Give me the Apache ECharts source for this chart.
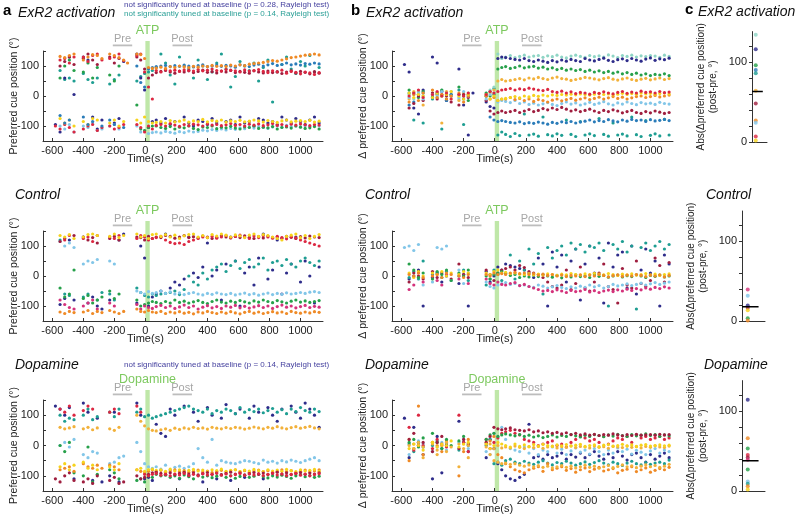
<!DOCTYPE html>
<html><head><meta charset="utf-8">
<script src="https://cdn.jsdelivr.net/npm/echarts@6/dist/echarts.min.js"></script>
<style>html,body{margin:0;padding:0;background:#fff}#c{width:796px;height:520px}</style>
</head><body><div id="c"></div>
<script>
// ---------- shared sample times (s) ----------
const T = [-580,-550,-520,-490,-460,-400,-370,-340,-310,-280,-230,-200,-170,-140,-115,
  -55,-30,-5,20,45,
  70,100,130,160,190,220,250,280,310,340,370,400,430,460,490,520,550,580,610,640,670,700,730,760,790,820,850,880,910,940,970,1000,1030,1060,1090,1120];
const X_TICKS = [-600,-400,-200,0,200,400,600,800,1000];
const Y_TICKS = [-150,-100,-50,0,50,100,150];
const Y_LABELS = [-100,0,100];
const C_TICKS = [0,20,40,60,80,100,120];
const C_LABELS = [0,100];
const PRE_WINDOW = [-210,-85];
const POST_WINDOW = [175,300];
const DRUG_WINDOW = [0,28];

// ---------- ExR2 activation: preferred cue position ----------
const exPref_orange = [null,132,128,135,140,120,130,138,135,125,140,135,128,120,110, 140,138,125,95,92,
  93,96,92,98,95,100, 97,95,99,96,100,98, 102,99,101,98,103,100, 104,101,106,108,110,112, 115,118,116,120,124,128, 130,133,136,138,140,137];
const exPref_blue = [null,-65,-90,-80,null,-70,-95,-85,null,-100,-80,-95,null,-105,null, 100,45,30,90,95,
  98,100,102,98,101,99, 103,100,97,101,104,98, 100,103,99,102,100,96, 104,101,98,103,106,100, 104,108,102,105,110,104, 107,103,108,106,110,107];
const exPref_red = [null,120,125,110,130,130,115,135,140,120,125,130,140,118,null, 135,140,80,30,-10,
  85,80,88,84,86,82, 87,85,83,88,84,86, 90,85,83,88,86,84, 80,87,83,85,88,82, 78,84,80,86,76,82, 79,74,80,77,72,78];
const exPref_maroon = [null,100,115,130,105,125,140,120,105,null,130,110,125,null,null, 130,120,90,60,70,
  78,82,85,80,76,83, 80,84,78,82,86,79, 81,77,83,80,85,78, 82,79,76,84,80,77, 83,78,81,75,80,84, 77,82,79,74,81,76];
const exPref_pink = [-100,-110,-95,-105,-120,-110,-100,-95,-115,-105,-100,-110,-105,-95,null, -95,-105,-120,-100,-110,
  -98,-95,-100,-92,-97,-101, -95,-99,-94,-96,-100,-93, -97,-95,-99,-96,-92,-98, -95,-100,-94,-97,-93,-99, -96,-92,-98,-95,-100,-94, -97,-93,-96,-99,-95,-97];
const exPref_yellow = [null,-75,-90,-80,-100,-85,-95,-75,-80,null,-90,-80,-100,-85,null, -80,-90,-70,-85,-90,
  -88,-85,-90,-82,-86,-84, -80,-87,-83,-85,-78,-86, -82,-84,-80,-87,-83,-85, -81,-86,-84,-80,-83,-87, -82,-85,-88,-83,-80,-86, -84,-82,-85,-81,-87,-84];
const exPref_green = [null,60,100,120,85,80,110,60,95,null,70,50,100,null,null, -30,-110,-115,-105,-100,
  -100,-105,-108,-102,-110,-104, -106,-100,-108,-112,-103,-105, -100,-109,-104,-106,-101,-107, -110,-103,-105,-100,-108,-104, -106,-102,-110,-105,-103,-107, -100,-104,-108,-106,-102,-110];
const exPref_lightblue = [null,-100,-110,-95,-120,-100,-105,-90,-115,-110,-100,-95,-110,null,null, -100,-120,-115,-125,-122,
  -120,-123,-118,-121,-124,-119, -122,-117,-120,-118,-114,-116, -112,-115,-110,-113,-108,-111, -106,-109,-104,-107,-102,-105, -108,-103,-100,-104,-98,-102, -100,-103,-99,-101,-97,-100];
const exPref_navy = [-95,-120,60,130,5,130,120,-70,-110,-80,null,-90,-75,115,null, 140,60,20,-105,-85,
  -80,-90,-75,-95,-85,null, -70,-90,-100,-80,-85,-95, -75,-90,null,-85,-80,-95, -70,-90,-85,-100,-75,-80, -90,-85,-95,-70,-80,-90, -75,-85,-95,-80,-70,-90];
const exPref_teal = [null,85,55,60,50,75,55,45,60,null,40,55,70,null,null, 50,65,75,80,85,
  95,140,110,70,40,130, 100,90,60,120,100,55, 80,110,140,90,30,65, 115,100,85,110,50,95, 120,-20,80,105,130,90, 75,115,100,135,80,95];

// ---------- ExR2 activation: change in preferred position ----------
const exDelta_mint = [null,5,-10,15,0,10,-5,20,5,15,-10,5,10,null,null, 10,20,30,140,125,
  130,135,128,132,136,130, 133,135,129,134,131,136, 130,127,133,136,132,129, 135,131,134,130,137,133, 128,135,132,136,130,134, 131,135,133,129,136,132];
const exDelta_navy = [105,80,-40,-60,20,130,110,15,-15,null,90,-30,-130,10,null, -20,-35,-40,125,130,
  128,125,122,120,125,118, 115,120,116,112,118,114, 120,116,122,118,115,125, 120,117,122,126,119,115, 121,124,118,125,120,116, 123,127,119,124,121,126];
const exDelta_green = [null,20,10,-5,15,0,10,20,-10,5,30,0,-15,null,null, 10,0,5,90,95,
  98,92,95,100,94,97, 99,93,96,90,94,88, 92,86,90,85,88,82, 86,80,84,78,82,76, 80,74,78,72,76,70, 74,68,72,70,74,68];
const exDelta_gold = [null,-10,15,5,-30,10,5,-90,15,0,-15,10,5,null,null, 0,10,20,50,55,
  50,52,55,58,54,60, 57,62,58,55,60,63, 58,56,52,55,58,62, 60,57,54,58,61,56, 53,57,60,55,52,56, 59,54,57,60,55,58];
const exDelta_red = [null,0,10,20,-5,5,15,0,10,-10,5,0,10,null,null, 5,15,10,15,20,
  22,25,20,24,21,26, 23,20,18,22,15,12, 16,10,14,8,12,10, 6,12,9,14,10,7, 12,15,9,13,10,16, 12,14,10,15,11,13];
const exDelta_yellow = [null,10,-5,5,0,-5,10,0,5,15,0,-10,5,null,null, 5,-10,0,-15,-10,
  -8,-5,-2,-6,0,-3, 2,-1,3,0,4,2, 5,3,6,4,7,5, 3,6,8,5,7,4, 6,9,5,8,6,10, 7,9,6,8,10,7];
const exDelta_orange = [null,-20,5,-15,10,20,-5,5,-10,0,10,-20,0,null,null, 0,-10,-5,-15,-10,
  -10,-5,-12,-8,-15,-10, -18,-12,-15,-20,-14,-10, -16,-12,-8,-14,-10,-6, -12,-8,-4,-10,-6,-2, -8,-4,-10,-6,-2,0, -5,-2,2,-3,0,3];
const exDelta_lightblue = [null,-5,5,10,-10,5,0,15,10,0,-5,15,0,null,null, -10,5,10,-20,-15,
  -18,-22,-15,-25,-20,-28, -24,-30,-26,-22,-28,-32, -25,-20,-27,-23,-30,-26, -21,-28,-24,-19,-26,-30, -23,-27,-20,-25,-29,-22, -26,-24,-28,-21,-25,-27];
const exDelta_maroon = [null,-40,-25,0,-15,10,-10,5,0,-20,-30,5,-5,null,null, -15,-50,-60,-55,-50,
  -55,-52,-48,-55,-50,-45, -52,-48,-42,-46,-40,-45, -38,-44,-50,-46,-52,-48, -44,-50,-55,-48,-52,-46, -50,-56,-52,-48,-55,-58, -52,-56,-50,-54,-58,-55];
const exDelta_blue = [null,-30,-20,0,10,-5,10,0,-15,5,5,-10,0,null,null, 0,-70,-80,-85,-82,
  -85,-88,-90,-86,-92,-89, -91,-87,-90,-94,-88,-91, -86,-89,-85,-90,-87,-84, -80,-86,-82,-85,-79,-83, -86,-80,-84,-78,-82,-80, -85,-79,-83,-81,-78,-82];
const exDelta_teal = [null,10,-80,5,-90,-10,5,-110,10,0,20,-95,5,null,null, 0,15,25,-130,-120,
  -128,-135,-125,-132,-60,-130, -127,-134,-70,-129,-133,-126, -131,-80,-128,-135,-85,-130, -126,-132,-75,-128,-134,-90, -130,-127,-133,-70,-129,-135, -82,-131,-126,-133,-78,-130];
const exAbs_values = [134,116,96,90,86,64,48,27,24,7,2];

// ---------- Control: preferred cue position ----------
const ctPref_yellow = [null,135,130,138,125,130,138,140,135,null,132,140,128,135,null, 140,130,135,125,138,
  140,132,138,130,136,125, 134,138,140,130,135,128, 138,133,140,136,130,137, 134,128,136,140,132,138, 135,130,125,120,132,136, 140,128,135,125,132,138];
const ctPref_orange = [null,-120,-125,-118,-122,-120,-115,-125,-118,-122,-115,-120,-125,-118,null, -110,-118,-120,-115,-120,
  -122,-118,-125,-120,-123,-119, -124,-121,-126,-120,-123,-118, -122,-125,-120,-124,-119,-123, -126,-121,-118,-124,-120,-125, -122,-119,-123,-120,-125,-118, -122,-124,-120,-123,-119,-121];
const ctPref_red = [null,null,120,135,null,125,130,115,135,null,130,125,135,null,null, 125,135,130,120,125,
  128,132,120,112,108,110, 105,115,120,125,130,128, 132,126,130,135,128,132, 136,130,125,133,128,135, 130,126,132,128,124,130, 127,120,115,110,105,100];
const ctPref_maroon = [null,115,125,null,135,130,120,128,110,null,125,132,120,null,null, 130,128,120,132,125,
  130,128,135,132,126,130, 135,128,131,127,133,130, 125,129,134,130,127,132, 128,134,129,125,131,127, 133,128,130,126,132,129, 125,131,127,133,130,128];
const ctPref_lightblue = [null,115,100,110,95,40,50,45,55,null,50,40,null,null,null, -50,-55,-60,-52,-58,
  -55,-50,-58,-53,-60,-56, -62,-58,-55,-60,-63,-58, -61,-56,-60,-62,-58,-63, -60,-57,-62,-59,-64,-60, -57,-62,-58,-61,-56,-60, -58,-55,-58,-54,-52,-55];
const ctPref_navy = [null,-95,-75,120,-80,130,-90,-70,-100,-110,-80,null,120,140,null, -90,100,60,-100,-70,
  -60,-50,140,-40,-20,-30, -10,130,10,-5,30,110, 0,20,-80,40,130,50, -100,10,30,-30,60,140, -10,20,120,-60,10,40, 130,-20,50,0,-90,30];
const ctPref_teal = [null,120,-60,-65,null,-70,-60,null,-80,-55,-60,-80,null,null,null, -40,-55,-65,-70,-60,
  -65,-60,-58,-55,-50,-62, -45,0,-20,-30,10,-10, 20,30,40,15,35,50, 25,45,55,30,40,60, 20,45,50,35,55,40, 30,50,60,45,35,50];
const ctPref_green = [null,-40,-70,-60,20,-75,-65,-90,-80,-70,-50,-75,-60,null,null, -80,-100,-95,-90,-85,
  -88,-92,-85,-90,-80,-88, -84,-90,-86,-82,-88,-92, -85,-80,-87,-90,-84,-88, -82,-86,-90,-83,-87,-80, -85,-89,-82,-86,-90,-84, -80,-87,-83,-88,-85,-82];
const ctPref_pink = [null,-80,-95,-105,-110,-100,-90,-80,-110,null,-90,-100,null,null,null, -95,-110,-100,-105,-108,
  -102,-98,-105,-100,-108,-103, -97,-105,-100,-110,-104,-99, -106,-102,-108,-100,-104,-98, -106,-101,-107,-103,-99,-105, -100,-108,-102,-97,-104,-100, -106,-102,-98,-105,-101,-104];

// ---------- Control: change in preferred position ----------
const ctDelta_orange = [null,5,0,10,-5,0,5,-5,10,5,0,-5,5,null,null, 5,0,10,5,8,
  5,10,12,8,10,5, 8,3,6,2,5,0, 3,-2,2,0,4,-2, 3,0,5,2,-3,1, 4,-1,3,0,5,2, -2,3,0,4,-3,2];
const ctDelta_yellow = [null,10,-5,15,0,10,5,15,0,10,5,15,10,null,null, 10,5,15,20,10,
  12,8,10,6,5,8, 4,6,3,7,5,2, 6,4,8,5,3,7, 5,9,6,4,8,5, 2,6,4,7,3,5, 8,4,6,2,5,7];
const ctDelta_green = [null,40,20,-5,10,-10,15,5,20,-15,10,0,20,null,null, 0,-10,5,10,15,
  8,2,5,-5,0,-3, 3,-2,5,0,-4,2, -6,1,-3,4,-2,0, -5,3,-1,2,-4,0, 3,-3,1,-2,4,0, -5,2,-1,3,-3,0];
const ctDelta_lightblue = [95,100,85,105,-30,-20,95,90,100,-15,20,-25,10,null,null, -20,-35,-40,-30,-25,
  -22,-28,-25,-32,-30,-35, -38,-30,-34,-40,-36,-32, -38,-42,-36,-40,-34,-38, -30,-36,-32,-40,-35,-28, -33,-30,-26,-32,-28,-24, -30,-26,-22,-28,-24,-20];
const ctDelta_pink = [null,-45,-30,10,-20,0,-15,-30,5,null,-10,0,-25,null,null, -10,-25,-30,-20,-28,
  -30,-25,-22,-32,-28,-35, -40,-45,-50,-48,-52,-46, -50,-55,-48,-52,-50,-45, -53,-49,-55,-50,-47,-52, -46,-50,-44,-48,-42,-46, -40,-44,-38,-42,-36,-40];
const ctDelta_maroon = [null,-20,10,0,-10,15,-5,10,null,-10,40,5,-5,null,null, 20,5,-15,10,20,
  25,30,20,35,28,15, 10,5,-5,-20,-35,-40, -30,20,-45,-25,30,-40, -50,-20,10,40,-35,-45, -90,25,-30,-40,50,-25, -35,-15,60,35,-20,45];
const ctDelta_navy = [null,-10,0,20,-100,-5,10,-20,0,null,-25,5,-100,null,null, 15,-20,0,30,20,
  40,35,30,25,20,10, -5,60,40,-100,80,30, 70,-20,50,90,-80,40, 100,10,60,-90,110,30, 70,80,-40,100,-60,20, 90,10,50,-100,70,40];
const ctDelta_teal = [null,-5,15,-10,50,5,10,-5,15,null,0,20,-15,null,null, -30,-10,20,5,-15,
  10,70,-10,50,20,90, 40,75,-60,95,60,85, 100,70,110,90,105,80, 100,95,110,85,-100,105, 90,115,80,100,-110,95, 110,85,100,115,90,105];
const ctAbs_values = [40,32,20,17,14,4,1];

// ---------- Dopamine: preferred cue position ----------
const daPref_teal = [null,100,80,90,85,100,120,85,95,null,110,95,120,null,null, 110,120,95,100,90,
  95,100,105,110,115,120, 125,130,120,115,110,120, 105,115,110,120,115,105, 125,110,118,112,120,108, 115,122,110,118,105,120, 112,125,115,110,120,112];
const daPref_navy = [130,120,100,125,-110,140,110,-115,90,-120,-100,110,-120,null,null, 140,100,-110,-105,-115,
  70,40,30,120,100,-110, 130,-100,110,80,-120,125, 100,-110,90,135,-115,105, 120,-105,90,130,110,-110, 125,100,80,120,-100,130, 110,90,140,120,100,60];
const daPref_gold = [null,60,55,58,62,55,60,52,58,null,55,50,60,null,null, 100,80,65,55,50,
  48,52,55,50,57,53, 58,55,60,56,58,54, 60,57,55,59,56,60, 58,54,57,61,58,55, 60,57,62,58,55,59, 62,57,60,63,58,55];
const daPref_yellow = [null,-70,-60,-80,-65,-55,-75,-65,-80,null,-70,-80,-60,null,null, -80,-75,-85,-80,-78,
  -82,-80,-85,-78,-84,-80, -86,-82,-79,-84,-81,-86, -80,-83,-78,-85,-82,-80, -86,-81,-84,-79,-83,-86, -80,-84,-81,-85,-79,-83, -86,-80,-84,-82,-79,-85];
const daPref_maroon = [-110,-120,-100,-90,-115,-120,-110,-125,-100,null,-115,-105,-125,-120,null, -100,-110,-105,-95,-90,
  -88,-92,-95,-90,-96,-92, -88,-94,-90,-97,-93,-89, -95,-91,-96,-92,-88,-94, -90,-97,-93,-89,-95,-91, -96,-92,-88,-94,-90,-96, -92,-89,-95,-91,-94,-90];
const daPref_green = [null,0,-20,10,-90,-100,-5,-120,-95,null,-80,-90,-110,null,null, -115,-110,-120,-100,-105,
  -95,-100,-98,-105,-100,-108, -97,-103,-110,-99,-104,-100, -106,-101,-97,-105,-100,-108, -102,-98,-105,-101,-95,-103, -107,-100,-104,-98,-102,-108, -100,-96,-103,-99,-105,-101];
const daPref_lightblue = [null,0,10,-5,20,-30,-40,-20,-25,null,-60,-55,-40,-35,null, 10,-20,-60,-70,-75,
  -70,-78,-65,-80,-72,-68, -75,-70,-60,-10,-40,-55, 20,-65,-50,-55,-58,-60, -55,-50,-52,-56,-60,-48, -55,-52,-58,-50,-54,-48, -52,-56,-50,-45,-40,-50];
const daPref_orange = [null,-80,-75,-70,-85,-60,-70,-75,-65,-75,-65,-70,-80,null,null, -80,-85,-90,-85,-80,
  -85,-82,-88,-84,-80,-86, -83,-88,-85,-81,-87,-84, -89,-85,-82,-87,-84,-80, -86,-83,-88,-84,-81,-86, -83,-88,-85,-80,-86,-83, -89,-85,-81,-87,-84,-80];
const daPref_red = [null,120,110,130,100,115,130,120,null,null,110,120,105,null,null, 130,110,-95,-100,-95,
  -92,-98,-95,-100,-94,-97, -92,-99,-95,-100,-93,-97, -95,-91,-98,-94,-100,-96, -92,-98,-94,-97,-93,-99, -95,-91,-97,-94,-99,-95, -92,-98,-94,-100,-96,-93];

// ---------- Dopamine: change in preferred position ----------
const daDelta_maroon = [null,20,40,0,10,-20,10,30,0,null,-10,20,5,null,null, 10,30,60,55,52,
  55,58,52,50,48,52, 45,48,42,45,40,43, 38,42,36,40,35,38, 34,37,33,36,34,38, 35,32,36,33,37,34, 35,36,34,37,35,36];
const daDelta_green = [null,10,20,-5,25,40,10,-10,20,0,15,30,5,null,null, 20,35,40,30,35,
  38,35,32,36,30,34, 28,32,26,30,35,28, 33,30,36,32,28,34, 30,36,33,29,35,31, 37,33,30,36,32,34, 38,33,36,30,35,32];
const daDelta_yellow = [null,-10,5,0,-15,10,-5,5,0,15,-5,5,10,null,null, 5,-10,0,10,5,
  0,-5,5,-3,2,-4, 3,-2,4,0,-3,2, -1,3,-2,1,4,-3, 0,2,-4,1,3,-2, 0,4,-1,2,-3,1, 3,-2,0,2,-1,1];
const daDelta_gold = [null,0,-10,10,-5,5,-15,0,10,-5,5,-10,0,null,null, -5,5,-10,0,-8,
  -5,-8,-2,-6,-10,-4, -7,-3,-9,-5,-2,-8, -4,-6,-1,-7,-3,-5, -8,-2,-6,-4,-9,-3, -5,-7,-2,-6,-4,-8, -3,-6,-1,-5,-7,-2];
const daDelta_orange = [null,20,-10,0,-40,10,-30,0,-20,null,-70,5,-40,null,null, 10,-30,-50,-55,-60,
  -58,-62,-60,-65,-68,-64, -70,-66,-72,-68,-74,-70, -66,-72,-68,-74,-70,-65, -72,-68,-75,-70,-66,-73, -69,-64,-70,-67,-73,-68, -64,-70,-66,-72,-68,-62];
const daDelta_navy = [90,-40,60,10,-30,-110,30,-90,null,null,80,10,-20,null,null, -40,20,-10,-60,-80,
  -100,-110,-115,-105,-95,70, -40,-35,-45,-30,-40,-35, -25,-45,-30,-38,-25,-40, -30,-20,-35,-45,-28,-40, -20,-35,-48,-30,-25,-40, -55,-30,-45,-35,-25,-40];
const daDelta_lightblue = [null,-30,-10,15,5,-20,-5,10,-15,null,10,20,-10,null,null, -20,-30,40,30,60,
  20,-10,-15,-20,-5,-25, -10,-30,-15,-20,-5,-25, -12,-30,-18,-8,-22,-15, -28,-10,-20,-30,-15,-25, -8,-20,-12,-28,-16,-22, -30,-18,-10,-25,-15,-20];
const daDelta_teal = [null,5,-20,10,-5,0,15,-10,5,null,-15,10,0,null,null, 0,20,-60,-55,-65,
  -50,-45,-55,-60,-52,-58, -62,-55,-50,-58,-64,-56, -60,-52,-58,-65,-60,-54, -62,-56,-50,-58,-64,-55, -60,-66,-58,-52,-60,-64, -56,-62,-58,-55,-60,-48];
const daDelta_red = [null,60,-15,100,0,-10,20,5,-5,null,100,10,-20,null,null, 20,-10,10,25,40,
  45,50,40,35,20,15, 10,0,5,10,15,0, 5,-5,10,20,30,25, 15,20,10,30,5,15, 25,20,30,10,35,25, 30,20,25,30,20,25];
const daDelta_orange2 = [null,-50,5,130,-30,10,0,-20,15,null,-100,-20,20,null,null, 5,15,30,-30,-40,
  -60,-70,-80,-85,-90,-80, -75,-70,-85,-60,-80,-75, -70,-82,-76,-88,-80,-74, -86,-78,-72,-84,-80,-76, -90,-82,-78,-70,-86,-80, -74,-88,-82,-76,-80,-72];
const daAbs_values = [114,66,53,45,42,39,27,12,9,6,2];

// ---------- styles ----------
const FONT = '"Liberation Sans", Arial, Helvetica, sans-serif';
const COL = {navy:'#2e2c8a', blue:'#2a7cb9', lightblue:'#82c6e8', teal:'#1e9e92', mint:'#8fd5c5',
  green:'#26a04a', yellow:'#f6d31c', gold:'#f2b13a', orange:'#ef8a26', red:'#dc2741', maroon:'#9f1e3f', pink:'#d4327b'};
const AXC = '#333';

const timePanels = [
  {grid:{left:43,top:51,width:280,height:90}, yName:'Preferred cue position (°)', drug:'ATP',
   traces:[[exPref_teal,'teal'],[exPref_navy,'navy'],[exPref_lightblue,'lightblue'],[exPref_green,'green'],[exPref_pink,'red'],
           [exPref_yellow,'yellow'],[exPref_maroon,'maroon'],[exPref_red,'red'],[exPref_blue,'blue'],[exPref_orange,'orange']]},
  {grid:{left:392,top:51,width:281,height:90}, yName:'Δ preferred cue position (°)', drug:'ATP',
   traces:[[exDelta_teal,'teal'],[exDelta_mint,'mint'],[exDelta_navy,'navy'],[exDelta_green,'green'],[exDelta_gold,'gold'],
           [exDelta_blue,'blue'],[exDelta_maroon,'maroon'],[exDelta_lightblue,'lightblue'],[exDelta_orange,'orange'],[exDelta_yellow,'yellow'],[exDelta_red,'red']]},
  {grid:{left:43,top:231,width:280,height:90}, yName:'Preferred cue position (°)', drug:'ATP',
   traces:[[ctPref_navy,'navy'],[ctPref_teal,'teal'],[ctPref_green,'green'],[ctPref_lightblue,'lightblue'],[ctPref_pink,'pink'],
           [ctPref_orange,'orange'],[ctPref_maroon,'maroon'],[ctPref_red,'red'],[ctPref_yellow,'yellow']]},
  {grid:{left:392,top:231,width:281,height:90}, yName:'Δ preferred cue position (°)', drug:'ATP',
   traces:[[ctDelta_navy,'navy'],[ctDelta_teal,'teal'],[ctDelta_maroon,'maroon'],[ctDelta_lightblue,'lightblue'],[ctDelta_pink,'pink'],
           [ctDelta_green,'green'],[ctDelta_yellow,'yellow'],[ctDelta_orange,'orange']]},
  {grid:{left:43,top:400,width:280,height:91}, yName:'Preferred cue position (°)', drug:'Dopamine',
   traces:[[daPref_navy,'navy'],[daPref_lightblue,'lightblue'],[daPref_teal,'teal'],[daPref_green,'green'],[daPref_orange,'orange'],
           [daPref_yellow,'yellow'],[daPref_maroon,'maroon'],[daPref_red,'red'],[daPref_gold,'gold']]},
  {grid:{left:392,top:400,width:281,height:91}, yName:'Δ preferred cue position (°)', drug:'Dopamine',
   traces:[[daDelta_navy,'navy'],[daDelta_lightblue,'lightblue'],[daDelta_teal,'teal'],[daDelta_orange2,'orange'],[daDelta_orange,'gold'],
           [daDelta_red,'red'],[daDelta_green,'green'],[daDelta_maroon,'maroon'],[daDelta_gold,'gold'],[daDelta_yellow,'yellow']]}
];
const absPanels = [
  {grid:{left:752,top:31.6,width:15,height:110.4}, values:exAbs_values,
   colors:['mint','navy','green','blue','teal','gold','maroon','orange','lightblue','red','yellow']},
  {grid:{left:742,top:211,width:23,height:110.4}, values:ctAbs_values,
   colors:['pink','lightblue','navy','maroon','yellow','green','orange']},
  {grid:{left:742,top:380.6,width:23,height:110.4}, values:daAbs_values,
   colors:['navy','orange','green','red','maroon','pink','green','lightblue','teal','orange','yellow']}
];

function pts(vals){ const out=[]; for(let k=0;k<T.length;k++){ const v=vals[k]; if(v!==null && v!==undefined) out.push([T[k],v]); } return out; }
const plain = v => String(v);

const grids=[], xAxes=[], yAxes=[], series=[];
timePanels.forEach((p,i)=>{
  grids.push(Object.assign({containLabel:false}, p.grid));
  xAxes.push({gridIndex:i, type:'value', min:-660, max:1145,
    axisLine:{show:true, onZero:false, lineStyle:{color:AXC, width:1}},
    axisTick:{show:true, inside:true, length:3, customValues:X_TICKS, lineStyle:{color:AXC}},
    axisLabel:{customValues:X_TICKS, formatter:plain, fontSize:11, color:'#222', margin:4, fontFamily:FONT},
    splitLine:{show:false}});
  yAxes.push({gridIndex:i, type:'value', min:-150, max:150,
    axisLine:{show:true, onZero:false, lineStyle:{color:AXC, width:1}},
    axisTick:{show:true, inside:true, length:3, customValues:Y_TICKS, lineStyle:{color:AXC}},
    axisLabel:{customValues:Y_LABELS, formatter:plain, fontSize:11, color:'#222', margin:4, fontFamily:FONT},
    splitLine:{show:false},
    name:p.yName, nameLocation:'middle', nameGap:23, nameMoveOverlap:false,
    nameTextStyle:{fontSize:10.5, color:'#222', fontFamily:FONT}});
  p.traces.forEach(([vals,ck])=>{
    series.push({type:'scatter', xAxisIndex:i, yAxisIndex:i, data:pts(vals), symbolSize:3.2,
      itemStyle:{color:COL[ck], opacity:1}, silent:true, animation:false});
  });
});
absPanels.forEach((p,j)=>{
  const i = timePanels.length + j;
  grids.push(Object.assign({containLabel:false}, p.grid));
  xAxes.push({gridIndex:i, type:'value', min:0, max:1,
    axisLine:{show:true, onZero:false, lineStyle:{color:AXC}}, axisTick:{show:false}, axisLabel:{show:false}, splitLine:{show:false}});
  yAxes.push({gridIndex:i, type:'value', min:0, max:138,
    axisLine:{show:true, onZero:false, lineStyle:{color:AXC}},
    axisTick:{show:true, inside:false, length:3, customValues:C_TICKS, lineStyle:{color:AXC}},
    axisLabel:{customValues:C_LABELS, formatter:plain, fontSize:11, color:'#222', margin:5, fontFamily:FONT},
    splitLine:{show:false},
    name:'Abs(Δpreferred cue position)\n(post-pre, °)', nameLocation:'middle', nameGap:33, nameMoveOverlap:false,
    nameTextStyle:{fontSize:10, color:'#222', fontFamily:FONT, lineHeight:12}});
  series.push({type:'scatter', xAxisIndex:i, yAxisIndex:i, symbolSize:4, silent:true, animation:false,
    data:p.values.map((v,k)=>({value:[0.25,v], itemStyle:{color:COL[p.colors[k]]}}))});
  const mean = p.values.reduce((a,b)=>a+b,0)/p.values.length;
  series.push({type:'line', xAxisIndex:i, yAxisIndex:i, symbol:'none', silent:true, animation:false, z:5,
    data:[[0,mean],[0.72,mean]], lineStyle:{color:'#000', width:1.6}});
});

const chart = echarts.init(document.getElementById('c'), null, {renderer:'canvas'});
chart.setOption({animation:false, backgroundColor:'#fff', grid:grids, xAxis:xAxes, yAxis:yAxes, series:series});

function txt(x,y,text,font,fill,align){
  return {type:'text', x:x, y:y, silent:true, z:10,
    style:{text:text, font:font, fill:fill, textAlign:align||'left', textVerticalAlign:'middle', align:align||'left', verticalAlign:'middle'}};
}
const G=[];
const TITLE_FONT = 'italic 14px ' + FONT;
const LETTER_FONT = 'bold 15px ' + FONT;
G.push(txt(3,11,'a',LETTER_FONT,'#000'), txt(18,13,'ExR2 activation',TITLE_FONT,'#111'));
G.push(txt(351,11,'b',LETTER_FONT,'#000'), txt(366,13,'ExR2 activation',TITLE_FONT,'#111'));
G.push(txt(685,10,'c',LETTER_FONT,'#000'), txt(698,12,'ExR2 activation',TITLE_FONT,'#111'));
G.push(txt(15,195,'Control',TITLE_FONT,'#111'), txt(365,195,'Control',TITLE_FONT,'#111'), txt(706,195,'Control',TITLE_FONT,'#111'));
G.push(txt(15,365,'Dopamine',TITLE_FONT,'#111'), txt(365,365,'Dopamine',TITLE_FONT,'#111'), txt(704,365,'Dopamine',TITLE_FONT,'#111'));
const NOTE_FONT = '8px ' + FONT;
G.push(txt(124,4.5,'not significantly tuned at baseline (p = 0.28, Rayleigh test)',NOTE_FONT,'#433f9e'));
G.push(txt(124,14,'not significantly tuned at baseline (p = 0.14, Rayleigh test)',NOTE_FONT,'#2a9f96'));
G.push(txt(124,365,'not significantly tuned at baseline (p = 0.14, Rayleigh test)',NOTE_FONT,'#433f9e'));

timePanels.forEach((p,i)=>{
  const px = t => chart.convertToPixel({xAxisIndex:i}, t);
  const top = p.grid.top, bottom = p.grid.top + p.grid.height;
  const d0 = px(DRUG_WINDOW[0]), d1 = px(DRUG_WINDOW[1]);
  G.push({type:'rect', z:0, silent:true, shape:{x:d0, y:top-10, width:d1-d0, height:bottom-top+10}, style:{fill:'#bfe7a8'}});
  [[PRE_WINDOW,'Pre'],[POST_WINDOW,'Post']].forEach(([w,label])=>{
    const a = px(w[0]), b = px(w[1]);
    G.push({type:'rect', z:1, silent:true, shape:{x:a, y:top-6.5, width:b-a, height:1.8}, style:{fill:'#bdbdbd'}});
    G.push(txt((a+b)/2, top-12, label, '11px '+FONT, '#a6a6a6', 'center'));
  });
  G.push(txt((d0+d1)/2, top-20, p.drug, '12.5px '+FONT, '#7dc95f', 'center'));
  G.push(txt(px(0), bottom+18, 'Time(s)', '11px '+FONT, '#222', 'center'));
});
chart.setOption({graphic:{elements:G}});
</script></body></html>
